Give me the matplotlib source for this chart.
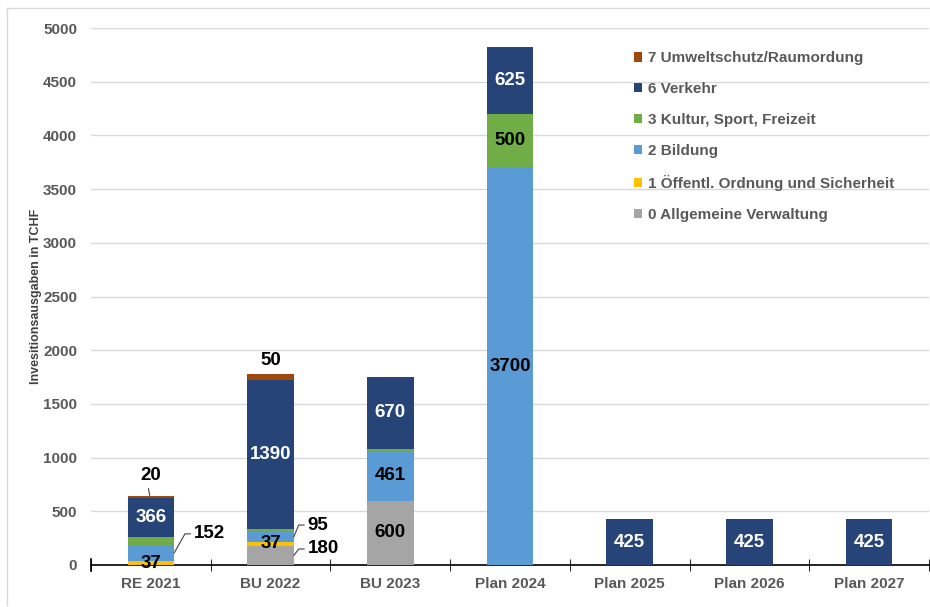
import numpy as np
import matplotlib.pyplot as plt
from matplotlib.lines import Line2D
from matplotlib.patches import Patch

plt.rcParams['font.family'] = ['Liberation Sans', 'DejaVu Sans']

# investment spending per budget year, in TCHF
years = ['RE 2021', 'BU 2022', 'BU 2023', 'Plan 2024', 'Plan 2025', 'Plan 2026', 'Plan 2027']
verwaltung = [0, 180, 600, 0, 0, 0, 0]
sicherheit = [37, 37, 0, 0, 0, 0, 0]
bildung = [152, 95, 461, 3700, 0, 0, 0]
kultur = [70, 25, 20, 500, 0, 0, 0]
verkehr = [366, 1390, 670, 625, 425, 425, 425]
umwelt = [20, 50, 0, 0, 0, 0, 0]

names = ['0 Allgemeine Verwaltung', '1 Öffentl. Ordnung und Sicherheit', '2 Bildung',
         '3 Kultur, Sport, Freizeit', '6 Verkehr', '7 Umweltschutz/Raumordung']
series = [verwaltung, sicherheit, bildung, kultur, verkehr, umwelt]
colors = ['#A5A5A5', '#FFC000', '#5B9BD5', '#70AD47', '#264478', '#9E480E']

# labels drawn inside the segment: (year index, series index)
inside = [(0, 1), (0, 4), (1, 1), (1, 4), (2, 0), (2, 2), (2, 4),
          (3, 2), (3, 3), (3, 4), (4, 4), (5, 4), (6, 4)]
# labels placed beside the bar: (year index, series index, text x, text y, leader)
outside = [(0, 5, 0.0, 830, True), (0, 2, 0.36, 290, True),
           (1, 2, 1.31, 372, True), (1, 0, 1.31, 149, True),
           (1, 5, 1.0, 1900, False)]

fig = plt.figure(figsize=(9.3, 6.07), dpi=100)
ax = fig.add_axes([91 / 930, 42 / 607, 838 / 930, 537 / 607])

x = np.arange(len(years))
w = 0.39
bottom = np.zeros(len(years))
bottoms = []
for vals, col, nm in zip(series, colors, names):
    bottoms.append(bottom.copy())
    ax.bar(x, vals, w, bottom=bottom, color=col, label=nm, zorder=3)
    bottom += np.array(vals)

for i, s in inside:
    v = series[s][i]
    tc = 'white' if s == 4 else 'black'
    ax.text(x[i], bottoms[s][i] + v / 2, str(v), ha='center', va='center',
            fontsize=13.5, fontweight='bold', color=tc, zorder=4)

for i, s, tx, ty, leader in outside:
    v = series[s][i]
    ymid = bottoms[s][i] + v / 2
    if s == 5:
        ax.text(tx, ty, str(v), ha='center', va='center', fontsize=13.5,
                fontweight='bold', color='black', zorder=4)
        if leader:
            ax.plot([x[i] - 0.01, x[i] - 0.02], [bottoms[s][i] + v + 5, ty - 120],
                    color='#404040', lw=0.8, zorder=4)
    else:
        ax.text(tx, ty, str(v), ha='left', va='center', fontsize=13.5,
                fontweight='bold', color='black', zorder=4)
        ax.plot([x[i] + w / 2, tx - 0.075, tx - 0.03], [ymid, ty, ty],
                color='#404040', lw=0.8, zorder=4)

ax.set_xlim(-0.5, len(years) - 0.5)
ax.set_ylim(0, 5000)
ax.set_yticks(np.arange(0, 5001, 500))
ax.set_xticks(x)
ax.set_xticklabels(years)
ax.set_xticks(np.arange(-0.5, len(years)), minor=True)
ax.tick_params(axis='x', which='major', length=0, pad=9)
ax.tick_params(axis='x', which='minor', length=8, direction='inout', color='black')
ax.tick_params(axis='y', length=0, pad=10)
for lab in ax.get_xticklabels() + ax.get_yticklabels():
    lab.set_fontsize(11)
    lab.set_fontweight('bold')
    lab.set_color('#595959')

ax.grid(axis='y', color='#D9D9D9', lw=1, zorder=0)
for sp in ['top', 'right', 'left']:
    ax.spines[sp].set_visible(False)
ax.spines['bottom'].set_color('black')
ax.spines['bottom'].set_linewidth(1.2)
ax.plot([-0.5, -0.5], [-60, 60], color='black', lw=1.2, clip_on=False, zorder=5)

ax.set_ylabel('Invesitionsausgaben in TCHF', fontsize=9, fontweight='bold',
              color='#404040', labelpad=1)

handles = [Patch(facecolor=c, edgecolor='none') for c in colors][::-1]
leg = ax.legend(handles, names[::-1], loc='upper right', bbox_to_anchor=(0.975, 0.982),
                frameon=False, handlelength=0.55, handleheight=0.55,
                handletextpad=0.4, labelspacing=1.1, prop={'weight': 'bold', 'size': 11})
for t in leg.get_texts():
    t.set_color('#595959')

# light frame around the figure
fig.add_artist(Line2D([7 / 930, 7 / 930], [2 / 607, 599 / 607], color='#D9D9D9', lw=1))
fig.add_artist(Line2D([7 / 930, 1.0], [599 / 607, 599 / 607], color='#D9D9D9', lw=1))

plt.savefig('out.png', dpi=100)
